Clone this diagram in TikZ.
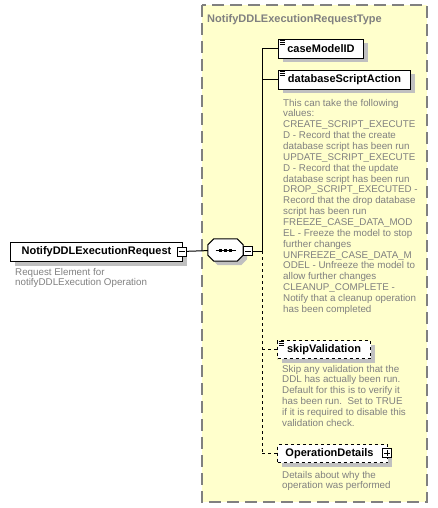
\documentclass[tikz,border=0pt]{standalone}
\usepackage{fontspec}
\setmainfont{Liberation Sans}
\usetikzlibrary{positioning,shadows}

\definecolor{typefill}{RGB}{255,255,204}
\definecolor{typeline}{RGB}{128,128,128}
\definecolor{notegray}{RGB}{128,128,128}
\definecolor{shadegray}{RGB}{192,192,192}

\begin{document}
\begin{tikzpicture}[x=1pt,y=-1pt]
	\tikzset{
		elem/.style={draw,fill=white,line width=1pt,anchor=north west,inner sep=0pt,minimum height=19pt,
			font=\fontsize{11}{13}\selectfont\bfseries,
			drop shadow={shadow xshift=4pt,shadow yshift=-4pt,fill=shadegray,opacity=1}},
		optelem/.style={elem,dashed},
		note/.style={anchor=north west,inner sep=0pt,align=left,text=notegray,
			font=\fontsize{9.8}{10.85}\selectfont},
		pmbox/.style={draw,fill=white,line width=1pt,minimum size=9pt,inner sep=0pt},
		link/.style={line width=1pt},
	}
	\useasboundingbox (0,0) rectangle (438,508);

	% the complex type
	\draw[typeline,fill=typefill,line width=1.2pt,dash pattern=on 12pt off 6pt] (202,5) rectangle (427,502);
	\node[anchor=base west,inner sep=0pt,text=typeline,font=\fontsize{11}{13}\selectfont\bfseries] (title) at (207,23) {NotifyDDLExecutionRequestType};

	\node[elem,minimum width=172pt] (request) at (10,242) {NotifyDDLExecutionRequest};
	\node[pmbox] (reqminus) at (181.5,251.5) {};
	\node[note] (reqnote) at (15,267.8) {Request Element for\\notifyDDLExecution Operation};

	\node[minimum width=35pt,minimum height=22pt,inner sep=0pt] (seq) at (225.5,250) {};
	\foreach \s/\c/\l in {4/shadegray/none,0/white/black}
		\filldraw[fill=\c,draw=\l,line width=1pt]
			([shift={(6+\s,\s)}]seq.north west) -- ([shift={(-6+\s,\s)}]seq.north east)
			-- ([shift={(\s,6+\s)}]seq.north east) -- ([shift={(\s,-6+\s)}]seq.south east)
			-- ([shift={(-6+\s,\s)}]seq.south east) -- ([shift={(6+\s,\s)}]seq.south west)
			-- ([shift={(\s,-6+\s)}]seq.south west) -- ([shift={(\s,6+\s)}]seq.north west) -- cycle;
	\node[pmbox] (seqminus) at (248,251) {};
	\coordinate (trunk) at (262,251);

	\node[elem,minimum width=85pt] (case) at (278,39) {caseModelID};
	\node[elem,minimum width=132pt] (action) at (278,70) {databaseScriptAction};
	\node[note] (actionnote) at (283,98.8) {This can take the following\\values:\\CREATE\_SCRIPT\_EXECUTE\\D - Record that the create\\database script has been run\\UPDATE\_SCRIPT\_EXECUTE\\D - Record that the update\\database script has been run\\DROP\_SCRIPT\_EXECUTED -\\Record that the drop database\\script has been run\\FREEZE\_CASE\_DATA\_MOD\\EL - Freeze the model to stop\\further changes\\UNFREEZE\_CASE\_DATA\_M\\ODEL - Unfreeze the model to\\allow further changes\\CLEANUP\_COMPLETE -\\Notify that a cleanup operation\\has been completed};

	\node[optelem,minimum width=93pt,minimum height=18pt] (skip) at (277,340) {skipValidation};
	\node[note] (skipnote) at (282,364.8) {Skip any validation that the\\DDL has actually been run.\\Default for this is to verify it\\has been run.\ \ Set to TRUE\\if it is required to disable this\\validation check.};

	\node[optelem,minimum width=110pt,minimum height=18pt] (details) at (277,444) {OperationDetails\hspace*{6pt}};
	\node[pmbox] (detplus) at (387,453) {};
	\node[note] (detnote) at (282,470.8) {Details about why the\\operation was performed};

	% sequence dots
	\draw[line width=1pt] ([xshift=-10pt]seq.center) -- ([xshift=10pt]seq.center);
	\foreach \dx in {-5,0,5}
		\fill ([xshift=\dx pt-1.5pt,yshift=-1.5pt]seq.center) rectangle ++(3,-3);

	% minus and plus signs
	\foreach \b in {reqminus,seqminus,detplus}
		\draw[line width=1pt] ([xshift=2pt]\b.west) -- ([xshift=-2pt]\b.east);
	\draw[line width=1pt] ([yshift=-2pt]detplus.north) -- ([yshift=2pt]detplus.south);

	% element icons
	\foreach \e in {case,action,skip}
		\foreach \dy in {1.5,3.5,5.5}
			\draw[line width=0.8pt] ([xshift=1.5pt,yshift=-\dy pt]\e.north west) -- ++(5,0);

	% connectors
	\draw[link] (reqminus) -- (seq);
	\draw[link] (seqminus) -- (trunk);
	\draw[link] (case.west -| trunk) -- (trunk);
	\draw[link] (case.west -| trunk) -- (case);
	\draw[link] (action.west -| trunk) -- (action);
	\draw[link,dashed] (trunk) -- (details.west -| trunk);
	\draw[link,dashed] (skip.west -| trunk) -- (skip);
	\draw[link,dashed] (details.west -| trunk) -- (details);
\end{tikzpicture}
\end{document}
